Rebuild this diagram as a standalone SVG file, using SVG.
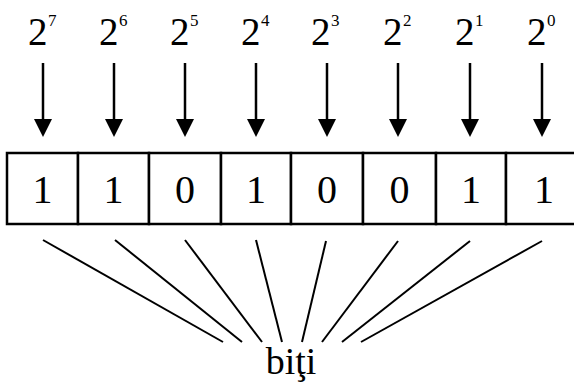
<svg xmlns="http://www.w3.org/2000/svg" width="574" height="384" viewBox="0 0 574 384">
<defs>
<style>
.t{font-family:"Liberation Serif","Times New Roman",serif;fill:#000}
.big{font-size:39px}
.sup{font-size:17px}
.dig{font-size:40px;text-anchor:middle}
.cell{fill:#fff;stroke:#000;stroke-width:2.5}
.arr{stroke:#000;stroke-width:2.5;fill:none}
.ln{stroke:#000;stroke-width:2;fill:none}
</style>
</defs>
<rect width="574" height="384" fill="#fff"/>
<g id="labels">
<g id="p7"><text class="t big" x="28" y="45">2</text><text class="t sup" x="48" y="26">7</text></g>
<g id="p6"><text class="t big" x="99" y="45">2</text><text class="t sup" x="119" y="26">6</text></g>
<g id="p5"><text class="t big" x="170" y="45">2</text><text class="t sup" x="190" y="26">5</text></g>
<g id="p4"><text class="t big" x="241" y="45">2</text><text class="t sup" x="261" y="26">4</text></g>
<g id="p3"><text class="t big" x="311" y="45">2</text><text class="t sup" x="331" y="26">3</text></g>
<g id="p2"><text class="t big" x="383" y="45">2</text><text class="t sup" x="403" y="26">2</text></g>
<g id="p1"><text class="t big" x="455" y="45">2</text><text class="t sup" x="475" y="26">1</text></g>
<g id="p0"><text class="t big" x="527" y="45">2</text><text class="t sup" x="547" y="26">0</text></g>
</g>
<g id="connectors">
<g id="arrows" fill="#000">
<line class="arr" x1="43" y1="63" x2="43" y2="121"/><path d="M34,119 L52,119 L43,137 Z"/>
<line class="arr" x1="114" y1="63" x2="114" y2="121"/><path d="M105,119 L123,119 L114,137 Z"/>
<line class="arr" x1="185" y1="63" x2="185" y2="121"/><path d="M176,119 L194,119 L185,137 Z"/>
<line class="arr" x1="256" y1="63" x2="256" y2="121"/><path d="M247,119 L265,119 L256,137 Z"/>
<line class="arr" x1="327" y1="63" x2="327" y2="121"/><path d="M318,119 L336,119 L327,137 Z"/>
<line class="arr" x1="398" y1="63" x2="398" y2="121"/><path d="M389,119 L407,119 L398,137 Z"/>
<line class="arr" x1="470" y1="63" x2="470" y2="121"/><path d="M461,119 L479,119 L470,137 Z"/>
<line class="arr" x1="542" y1="63" x2="542" y2="121"/><path d="M533,119 L551,119 L542,137 Z"/>
</g>
<g id="fan">
<line class="ln" x1="43" y1="240" x2="223" y2="342"/>
<line class="ln" x1="115" y1="240" x2="242" y2="342"/>
<line class="ln" x1="185" y1="240" x2="262" y2="342"/>
<line class="ln" x1="256" y1="240" x2="282" y2="342"/>
<line class="ln" x1="326" y1="241" x2="302" y2="342"/>
<line class="ln" x1="398" y1="241" x2="322" y2="342"/>
<line class="ln" x1="470" y1="241" x2="342" y2="342"/>
<line class="ln" x1="542" y1="241" x2="361" y2="342"/>
</g>
</g>
<g id="register">
<g id="b7"><rect class="cell" x="7" y="153" width="71" height="71"/><text class="t dig" x="42.5" y="203">1</text></g>
<g id="b6"><rect class="cell" x="78" y="153" width="71" height="71"/><text class="t dig" x="113.5" y="203">1</text></g>
<g id="b5"><rect class="cell" x="149" y="153" width="72" height="71"/><text class="t dig" x="185" y="203">0</text></g>
<g id="b4"><rect class="cell" x="221" y="153" width="70" height="71"/><text class="t dig" x="256" y="203">1</text></g>
<g id="b3"><rect class="cell" x="291" y="153" width="72" height="71"/><text class="t dig" x="327" y="203">0</text></g>
<g id="b2"><rect class="cell" x="363" y="153" width="73" height="71"/><text class="t dig" x="399.5" y="203">0</text></g>
<g id="b1"><rect class="cell" x="436" y="153" width="70" height="71"/><text class="t dig" x="471" y="203">1</text></g>
<g id="b0"><rect class="cell" x="506" y="153" width="72" height="71"/><text class="t dig" x="544" y="203">1</text></g>
</g>
<g id="biti"><text class="t" x="291" y="374" font-size="38" text-anchor="middle">biţi</text></g>
</svg>
